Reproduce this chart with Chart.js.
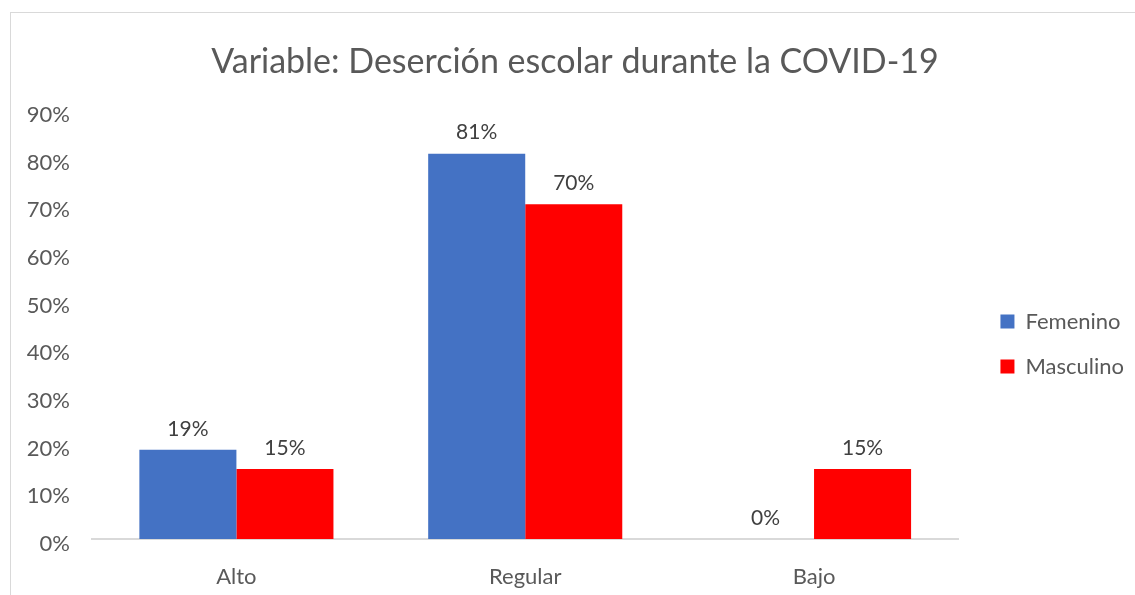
<!DOCTYPE html>
<html>
<head>
<meta charset="utf-8">
<script src="https://cdn.jsdelivr.net/npm/chart.js@4"></script>
<style>
  html, body { margin: 0; padding: 0; background: #fff; overflow: hidden; }
  #frame { position: absolute; left: 10px; top: 12px; width: 1300px; height: 800px; border: 1px solid #d9d9d9; box-sizing: border-box; }
  #chart { position: absolute; left: 0; top: 0; }
</style>
</head>
<body>
<div id="frame"></div>
<canvas id="chart" width="1135" height="595"></canvas>
<script>
// datos
const categorias = ['Alto', 'Regular', 'Bajo'];
const femenino = [0.187, 0.808, 0];
const masculino = [0.147, 0.702, 0.147];
const ticksY = [0, 0.1, 0.2, 0.3, 0.4, 0.5, 0.6, 0.7, 0.8, 0.9];

const FONT = 'Lato, "Open Sans", sans-serif';
const GRIS = '#595959';

const pct = v => Math.round(v * 100) + '%';

// etiquetas encima de cada barra
const etiquetas = {
  id: 'etiquetas',
  afterDatasetsDraw(chart) {
    const ctx = chart.ctx;
    ctx.save();
    ctx.font = '21px ' + FONT;
    ctx.fillStyle = '#404040';
    ctx.textAlign = 'center';
    ctx.textBaseline = 'middle';
    chart.data.datasets.forEach((ds, i) => {
      chart.getDatasetMeta(i).data.forEach((bar, j) => {
        ctx.fillText(pct(ds.data[j]), bar.x, bar.y - 21);
      });
    });
    ctx.restore();
  }
};

new Chart(document.getElementById('chart').getContext('2d'), {
  type: 'bar',
  data: {
    labels: categorias,
    datasets: [
      { label: 'Femenino', data: femenino, backgroundColor: '#4472C4' },
      { label: 'Masculino', data: masculino, backgroundColor: '#FF0000' },
    ],
  },
  options: {
    responsive: false,
    animation: false,
    devicePixelRatio: 1,
    categoryPercentage: 0.672,
    barPercentage: 1,
    layout: { padding: { top: 12, left: 16, right: 1, bottom: 0 } },
    plugins: {
      title: {
        display: true,
        text: 'Variable: Deserción escolar durante la COVID-19',
        color: GRIS,
        font: { family: FONT, size: 34, weight: 'normal' },
        padding: { top: 30, bottom: 27 },
      },
      legend: {
        position: 'right',
        title: { display: true, text: ' ', font: { size: 1 }, padding: { top: 80, bottom: 0 } },
        labels: {
          color: GRIS,
          font: { family: FONT, size: 22 },
          boxWidth: 14,
          boxHeight: 14,
          padding: 23,
        },
      },
      tooltip: { enabled: false },
    },
    scales: {
      x: {
        grid: { display: false },
        border: { display: true, color: '#d9d9d9', width: 2 },
        ticks: { color: GRIS, font: { family: FONT, size: 22 }, padding: 17 },
        afterFit: s => { s.height = 56; },
      },
      y: {
        min: 0,
        max: 0.9,
        grid: { display: false },
        border: { display: false },
        afterBuildTicks: s => { s.ticks = ticksY.map(v => ({ value: v })); },
        ticks: { color: GRIS, font: { family: FONT, size: 22 }, padding: 14, labelOffset: 5, callback: v => pct(v) },
        afterFit: s => { s.width = 76; },
      },
      // espacio vacio entre el area del grafico y la leyenda
      hueco: {
        position: 'right',
        grid: { display: false },
        border: { display: false },
        ticks: { display: false },
        afterFit: s => { s.width = 19; },
      },
    },
  },
  plugins: [etiquetas],
});
</script>
</body>
</html>
